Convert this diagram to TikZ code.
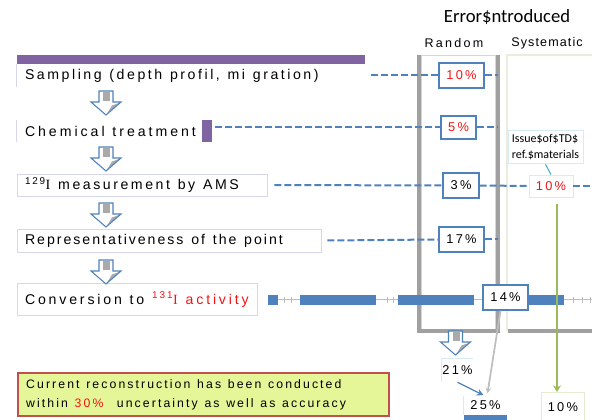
\documentclass[tikz,border=0pt]{standalone}
\usepackage{fontspec}
\setmainfont{Liberation Sans}
\newfontfamily\spc[LetterSpace=18]{Liberation Sans}
\newfontfamily\srfI{Liberation Serif}
\newfontfamily\cbr{Carlito}
\newcommand\wsp{\spaceskip=0.55em\relax}
\usetikzlibrary{arrows.meta,calc}
\definecolor{purp}{RGB}{128,100,162}
\definecolor{dblue}{RGB}{79,129,189}
\definecolor{tred}{RGB}{240,20,20}
\definecolor{grn}{RGB}{155,187,89}
\definecolor{tealc}{RGB}{75,172,198}
\definecolor{lblb}{RGB}{215,215,235}
\definecolor{colgray}{RGB}{160,160,160}
\definecolor{peach}{RGB}{246,205,180}
\definecolor{sysb}{RGB}{236,236,222}
\definecolor{shgray}{RGB}{170,170,170}
\definecolor{notefill}{RGB}{229,246,152}
\definecolor{noteedge}{RGB}{192,80,77}
\definecolor{lgreenb}{RGB}{228,235,208}
\definecolor{lblue}{RGB}{214,236,242}
\definecolor{plusg}{RGB}{190,190,190}
\begin{document}
\begin{tikzpicture}[x=0.75pt,y=-0.75pt,
  stepbox/.style={inner xsep=6pt, inner ysep=0pt, align=left,
     font=\spc\fontsize{10.6}{12}\selectfont},
  framed/.style={draw=lblb, line width=0.6pt},
  pbox/.style={draw=dblue, line width=1.1pt, fill=white, inner sep=0pt,
     font=\spc\fontsize{9.6}{11}\selectfont},
  hdr/.style={font=\spc\fontsize{9.4}{11}\selectfont},
  dline/.style={dblue, line width=1.5pt, dash pattern=on 5.25pt off 2.25pt},
  bluebar/.style={dblue, line width=7.5pt},
  plusline/.style={plusg, line width=0.6pt},
  gline/.style={grn, line width=1.1pt, -{Stealth[length=5pt,width=6pt]}},
  darrow/.pic={
    \path[fill=white] (-7,0) -- (7,0) -- (7,11) -- (15,11) -- (0,24) -- (-15,11) -- (-7,11) -- cycle;
    \fill[shgray] (-3,0.8) rectangle (4,10);
    \fill[shgray] (13.5,11.8) -- (1,22.8) -- (6,14.5) -- cycle;
    \draw[dblue, line width=0.8pt, line join=miter] (-7,0) -- (7,0) -- (7,11) -- (15,11) -- (0,24) -- (-15,11) -- (-7,11) -- cycle;
  }]
\useasboundingbox (0,0) rectangle (592,420);
\clip (0,0) rectangle (592,420);

% columns
\fill[white] (421,55) rectangle (496,330);
\draw[peach, line width=0.6pt] (421.5,55) rectangle (495.5,330);
\draw[colgray, line width=2.4pt, line join=miter] (419,55) -- (419,331) -- (498,331) -- (498,55);
\draw[sysb, line width=0.8pt] (507,55) rectangle (600,330);
\draw[colgray, line width=2.4pt] (508,331) -- (600,331);
\coordinate (colR) at (498,0);
\coordinate (edgeR) at (592,0);
\coordinate (gx) at (557,0);

% headings
\node[font=\cbr\fontsize{14}{16}\selectfont] (title) at (507,17) {Error\$ntroduced};
\node[hdr] (hrand) at (454,43) {Random};
\node[hdr] (hsys) at (547,43) {\addfontfeature{LetterSpace=9}Systematic};

% step boxes
\node[stepbox, text width=249pt, minimum height=17.25pt] (samp) at (191,75.5)
  {\wsp\mbox{Sampling (depth profil, mi gration)}};
\fill[purp] (samp.north west) rectangle ++(348,-9);
\draw[lblb, line width=0.6pt] (samp.north west) -- (samp.south west);

\node[stepbox, text width=126.75pt, minimum height=16.5pt] (chem) at (109.5,131)
  {\addfontfeature{LetterSpace=21}\wsp\mbox{Chemical treatment}};
\draw[lblb, line width=0.6pt] (chem.north west) -- (chem.south west);
\node[fill=purp, minimum width=7.5pt, minimum height=16.5pt, inner sep=0pt] (chemend) at (207,131) {};

\node[stepbox, framed, text width=175.5pt, minimum height=16.5pt] (ams) at (142,185)
  {\wsp\mbox{\textsuperscript{129}{\srfI I} measurement by AMS}};

\node[stepbox, framed, text width=216pt, minimum height=17.25pt] (rep) at (169,240.5)
  {\addfontfeature{LetterSpace=14}\wsp\mbox{Representativeness of the point}};

\node[stepbox, framed, text width=168pt, minimum height=24pt] (conv) at (137,299.5)
  {\addfontfeature{LetterSpace=20}\wsp\mbox{Conversion to \textcolor{tred}{\textsuperscript{131}{\srfI I} activity}}};

% block arrows
\pic (a1) at (106,91) {darrow};
\pic (a2) at (106,147) {darrow};
\pic (a3) at (106,203) {darrow};
\pic (a4) at (106,260) {darrow};
\pic (a5) at (455.5,331) {darrow};

% percent boxes
\node[pbox, minimum width=33.75pt, minimum height=18.75pt, text=tred] (r1) at (461.5,75.5) {10\%};
\node[pbox, minimum width=26.25pt, minimum height=17.25pt, text=tred] (r2) at (458.5,127.5) {5\%};
\node[pbox, minimum width=27pt, minimum height=18.75pt] (r3) at (461,185.5) {3\%};
\node[pbox, minimum width=33.75pt, minimum height=18.75pt] (r4) at (461.5,239.5) {17\%};
\node[pbox, draw=lgreenb, line width=0.6pt, minimum width=33pt, minimum height=16.5pt, text=tred] (s3) at (551,186) {10\%};
\node[draw=lblue, line width=0.6pt, fill=white, minimum width=56.25pt, minimum height=24pt,
  inner xsep=3pt, align=left, font=\cbr\fontsize{9}{11.5}\selectfont] (issue) at (545.5,147)
  {Issue\$of\$TD\$\\ref.\$materials};

% dashed connectors
\draw[dline] (samp.east) ++(6,0) -- (r1.west);
\draw[dline] (r1.east) -- (r1.east -| colR);
\draw[dline] (chemend.east |- r2.west) ++(3,0) -- (r2.west);
\draw[dline] (r2.east) -- (r2.east -| colR);
\draw[dline] (ams.east) ++(7,0) -- (r3.west);
\draw[dline] (r3.east) -- (s3.west);
\draw[dline] (s3.east) -- (s3.east -| edgeR);
\draw[dline] (rep.east) ++(6,0) -- (r4.west);
\draw[dline] (r4.east) -- (r4.east -| colR);

% row 5 thick dashed bar
\draw[plusline] (conv.east) ++(11,0) -- (conv.east -| edgeR);
\foreach \x in {284,291,387,393,573,582,590} \draw[plusline] (\x,296.5) -- (\x,302.5);
\draw[bluebar, dash pattern=on 57pt off 16.5pt, dash phase=49.5pt] (conv.east) ++(11,0) -- (conv.east -| 483,0);
\node[pbox, minimum width=33.75pt, minimum height=18.75pt] (r5) at (505.5,297.5) {14\%};
\draw[bluebar] (r5.east |- conv.east) -- ++(35,0);

% issue callout
\draw[tealc, line width=0.8pt] (issue.south) -- (s3.north);

% lower results
\node[draw=lgreenb, line width=0.6pt, fill=white, minimum width=32.25pt, minimum height=22.5pt,
  inner xsep=2pt, anchor=north west, font=\spc\fontsize{9.6}{11}\selectfont] (s6) at (541,392) {10\%\hspace{8pt}};
\draw[gline] (gx |- s3.south) ++(0,7) -- (gx |- s6.north);

\node[inner sep=0pt, minimum width=23.25pt, minimum height=17.25pt, font=\spc\fontsize{9.6}{11}\selectfont] (p21) at (457.5,370.5) {21\%};
\draw[lblue, line width=0.6pt] (p21.south west) -- (p21.north west) -- (p21.north east);

\node[inner sep=0pt, minimum width=32.25pt, minimum height=13.5pt, font=\spc\fontsize{9.6}{11}\selectfont] (p25) at (485.5,405.5) {25\%};
\draw[lblue, line width=0.6pt] (p25.south west) -- (p25.north west);
\fill[dblue] (p25.south west) rectangle ++(43,8);

\draw[dblue, line width=0.9pt, -{Stealth[length=5pt,width=5pt]}] (p21.south) -- ($(p25.north)+(-2,-1)$);
\draw[plusg, line width=1.3pt, -{Stealth[length=4pt,width=4pt]}] (r5.south) ++(-5,0) -- ($(p25.north)+(2,-3)$);

% note
\node[draw=noteedge, line width=1.1pt, fill=notefill, text width=266pt, inner xsep=6pt,
  minimum height=32.25pt, align=left, font=\spc\fontsize{9.2}{14.25}\selectfont] (note) at (203.5,394.5)
  {\addfontfeature{LetterSpace=17}\wsp Current reconstruction has been conducted\\within \textcolor{tred}{30\%}\ \ uncertainty as well as accuracy};
\end{tikzpicture}
\end{document}
